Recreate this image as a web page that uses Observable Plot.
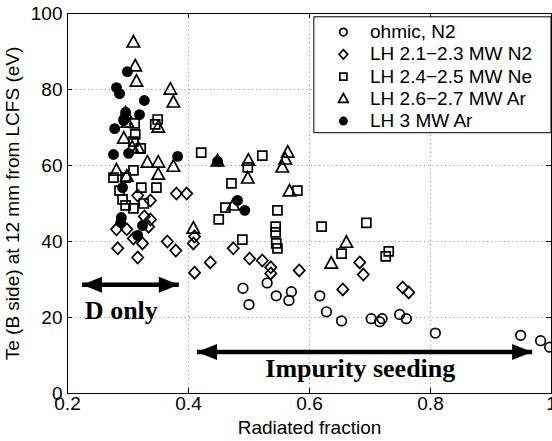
<!DOCTYPE html>
<html>
<head>
<meta charset="utf-8">
<script src="https://cdn.jsdelivr.net/npm/d3@7"></script>
<script src="https://cdn.jsdelivr.net/npm/@observablehq/plot@0.6"></script>
<style>
  html, body { margin: 0; padding: 0; background: white; overflow: hidden; }
</style>
</head>
<body>
<div id="chart"></div>
<script>
// ---- Data (x = radiated fraction, y = Te in eV) ----
const xTicks = [0.2, 0.4, 0.6, 0.8, 1];
const yTicks = [0, 20, 40, 60, 80, 100];

const ohmicN2 = [
  [0.490, 27.7], [0.500, 23.4], [0.530, 29.1], [0.545, 25.7], [0.570, 26.8],
  [0.566, 24.5], [0.617, 25.7], [0.628, 21.5], [0.653, 19.1], [0.702, 19.7],
  [0.716, 18.9], [0.720, 19.7], [0.749, 20.8], [0.760, 19.7], [0.808, 15.9],
  [0.949, 15.3], [0.982, 13.9], [0.997, 12.2]
];
const lhN2 = [
  [0.281, 43.2], [0.283, 38.2], [0.298, 43.2], [0.309, 40.8], [0.316, 35.8],
  [0.324, 39.5], [0.327, 46.6], [0.337, 45.8], [0.334, 43.9], [0.365, 40.0],
  [0.379, 37.6], [0.380, 52.6], [0.397, 52.6], [0.316, 52.1], [0.337, 50.8],
  [0.410, 41.3], [0.408, 39.5], [0.410, 31.8], [0.436, 34.5], [0.474, 38.2],
  [0.501, 35.5], [0.522, 35.0], [0.536, 33.2], [0.536, 31.6], [0.583, 32.4],
  [0.683, 34.5], [0.689, 31.3], [0.655, 27.4], [0.754, 27.9], [0.764, 26.6]
];
const lhNe = [
  [0.311, 71.1], [0.312, 68.2], [0.349, 72.1], [0.345, 70.8], [0.309, 66.3],
  [0.321, 64.5], [0.309, 58.7], [0.276, 56.8], [0.296, 56.8], [0.322, 54.2],
  [0.347, 54.2], [0.286, 53.4], [0.291, 51.1], [0.326, 50.0], [0.296, 49.5],
  [0.309, 48.7], [0.421, 63.4], [0.522, 62.6], [0.498, 59.5], [0.471, 55.3],
  [0.580, 53.4], [0.461, 48.9], [0.547, 48.2], [0.450, 45.8], [0.544, 43.9],
  [0.544, 42.4], [0.545, 39.5], [0.547, 38.2], [0.489, 40.5], [0.620, 43.9],
  [0.694, 44.9], [0.653, 36.8], [0.726, 36.1], [0.731, 37.4]
];
const lhAr27 = [
  [0.309, 92.4], [0.312, 86.1], [0.314, 82.1], [0.370, 80.0], [0.375, 76.6],
  [0.296, 73.7], [0.299, 71.3], [0.350, 70.0], [0.293, 67.1], [0.307, 64.7],
  [0.317, 64.5], [0.332, 60.8], [0.350, 60.8], [0.375, 59.7], [0.281, 58.7],
  [0.298, 57.1], [0.350, 57.6], [0.448, 61.1], [0.499, 61.3], [0.498, 56.6],
  [0.564, 63.4], [0.560, 61.6], [0.555, 59.5], [0.567, 53.2], [0.474, 49.5],
  [0.408, 43.4], [0.661, 39.7], [0.636, 34.2]
];
const lhAr3 = [
  [0.299, 84.7], [0.281, 80.5], [0.286, 78.9], [0.327, 77.1], [0.296, 74.0],
  [0.319, 73.4], [0.293, 71.8], [0.278, 69.7], [0.276, 62.9], [0.301, 63.2],
  [0.382, 62.4], [0.448, 61.1], [0.481, 50.8], [0.493, 48.2], [0.289, 46.3],
  [0.288, 45.0], [0.291, 54.2], [0.316, 41.6], [0.324, 44.2]
];

const seriesNames = ["ohmic, N2", "LH 2.1\u22122.3 MW N2", "LH 2.4\u22122.5 MW Ne", "LH 2.6\u22122.7 MW Ar", "LH 3 MW Ar"];

// annotations: double arrows and their labels
const arrows = [
  {x1: 0.224, x2: 0.384, y: 28.6},
  {x1: 0.414, x2: 0.968, y: 10.9}
];
const notes = [
  {text: "D only", x: 0.289, y: 19.5},
  {text: "Impurity seeding", x: 0.684, y: 4.3}
];

// legend layout (in data units)
const legendBox = {x1: 0.608, x2: 1.0, y1: 68.5, y2: 99.0};
const legendMarkX = 0.656, legendTextX = 0.700, legendTop = 95.1, legendStep = 5.85;

// ---- custom marker symbols ----
function polySym(pts, k) {
  return {draw(ctx) {
    ctx.moveTo(pts[0][0] * k, pts[0][1] * k);
    for (let i = 1; i < pts.length; i++) ctx.lineTo(pts[i][0] * k, pts[i][1] * k);
    ctx.closePath();
  }};
}
function circleSym(r) {
  return {draw(ctx) { ctx.moveTo(r, 0); ctx.arc(0, 0, r, 0, 2 * Math.PI); }};
}
function makeSymbols(k) {
  return [
    circleSym(4.8 * k),
    polySym([[0, -6], [5.6, 0], [0, 6], [-5.6, 0]], k),
    polySym([[-4.5, -4.5], [4.5, -4.5], [4.5, 4.5], [-4.5, 4.5]], k),
    polySym([[0, -6.8], [6.2, 4.6], [-6.2, 4.6]], k),
    circleSym(4.6 * k)
  ];
}
const dataSyms = makeSymbols(1);
const legSyms = makeSymbols(0.78);
const filled = [false, false, false, false, true];
const allSeries = [ohmicN2, lhN2, lhNe, lhAr27, lhAr3];

// arrow head: tip at origin, pointing up
const headSym = polySym([[0, 0], [8, 20], [-8, 20]], 1);

const frameW = 552 - 67 - 1, frameH = 441 - 13 - 48;

const marks = [
  Plot.gridX(xTicks.slice(1, -1), {stroke: "#999", strokeOpacity: 1, strokeDasharray: "1.2,3"}),
  Plot.gridY(yTicks.slice(1, -1), {stroke: "#999", strokeOpacity: 1, strokeDasharray: "1.2,3"}),
  Plot.axisX(xTicks, {tickSize: 0, tickPadding: 3, tickFormat: d => String(d), label: null}),
  Plot.axisY(yTicks, {tickSize: 0, tickPadding: 5, label: null}),
  Plot.tickX(xTicks, {x: d => d, insetTop: frameH - 5, stroke: "black"}),
  Plot.tickX(xTicks, {x: d => d, insetBottom: frameH - 5, stroke: "black"}),
  Plot.tickY(yTicks, {y: d => d, insetRight: frameW - 5, stroke: "black"}),
  Plot.tickY(yTicks, {y: d => d, insetLeft: frameW - 5, stroke: "black"}),
  Plot.frame({stroke: "black"}),
  Plot.text(["Radiated fraction"], {frameAnchor: "bottom", dy: 40, lineAnchor: "bottom", fontSize: 19}),
  Plot.text(["Te (B side) at 12 mm from LCFS (eV)"], {frameAnchor: "left", dx: -55, rotate: -90, textAnchor: "middle", lineAnchor: "middle", fontSize: 19})
];

allSeries.forEach((s, i) => {
  marks.push(Plot.dot(s, {
    x: d => d[0], y: d => d[1], symbol: dataSyms[i], r: 5,
    stroke: "black", strokeWidth: 1.7, fill: filled[i] ? "black" : "none"
  }));
});

// arrows
marks.push(Plot.link(arrows, {x1: "x1", x2: "x2", y1: "y", y2: "y", stroke: "black", strokeWidth: 4.5}));
marks.push(Plot.dot(arrows, {x: "x2", y: "y", symbol: headSym, r: 5, fill: "black", stroke: "none", rotate: 90}));
marks.push(Plot.dot(arrows, {x: "x1", y: "y", symbol: headSym, r: 5, fill: "black", stroke: "none", rotate: -90}));
marks.push(Plot.text(notes, {x: "x", y: "y", text: "text", fontFamily: "'Liberation Serif', 'Times New Roman', serif", fontWeight: "bold", fontSize: 26, lineAnchor: "bottom", textAnchor: "middle"}));

// legend
marks.push(Plot.rect([legendBox], {x1: "x1", x2: "x2", y1: "y1", y2: "y2", fill: "white", stroke: "black", strokeWidth: 1}));
seriesNames.forEach((name, i) => {
  const y = legendTop - i * legendStep;
  marks.push(Plot.dot([{x: legendMarkX, y}], {x: "x", y: "y", symbol: legSyms[i], r: 4, stroke: "black", strokeWidth: 1.7, fill: filled[i] ? "black" : "none"}));
  marks.push(Plot.text([{x: legendTextX, y, t: name}], {x: "x", y: "y", text: "t", textAnchor: "start", lineAnchor: "middle", fontSize: 19}));
});

const chart = Plot.plot({
  width: 552, height: 441,
  marginLeft: 67, marginRight: 1, marginTop: 13, marginBottom: 48,
  x: {domain: [0.2, 1]},
  y: {domain: [0, 100]},
  style: {fontFamily: "'Liberation Sans', Arial, Helvetica, sans-serif", fontSize: "19px", background: "white", color: "black"},
  marks
});
document.getElementById("chart").appendChild(chart);
</script>
</body>
</html>
